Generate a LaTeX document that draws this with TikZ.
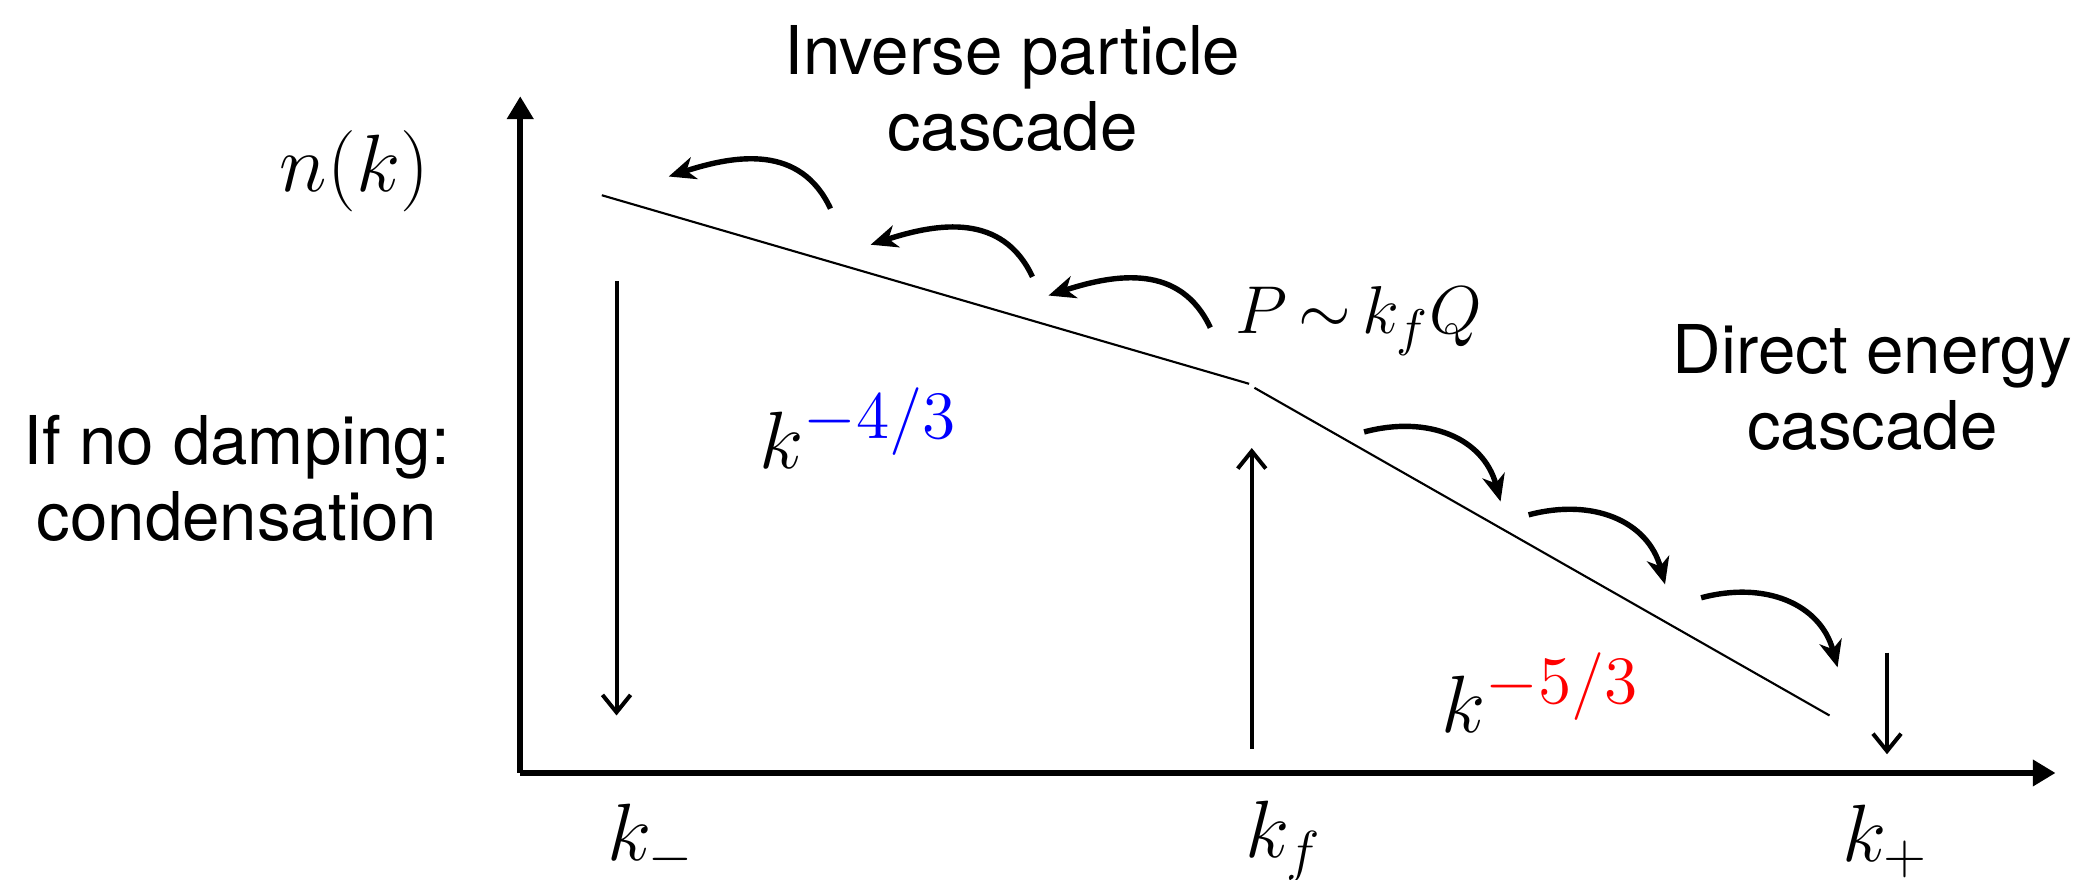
\documentclass[tikz,border=0pt]{standalone}
\usepackage[no-math]{fontspec}
\setmainfont{TeX Gyre Heros}
\usetikzlibrary{arrows.meta}

\begin{document}
\begin{tikzpicture}[x=0.01cm, y=0.01cm, every node/.style={font=\fontsize{14.3}{16.2}\selectfont, align=center, inner sep=0pt}, ax/.style={line width=1.25pt, -{Triangle[length=0.17cm, width=0.19cm]}}, spec/.style={line width=0.45pt}, flux/.style={line width=1.15pt, -{Stealth[length=0.2cm, width=0.17cm, inset=0.06cm]}}, vert/.style={line width=0.85pt, -{Straight Barb[length=0.13cm, width=0.21cm]}}, lab/.style={font=\fontsize{17}{20}\selectfont}]
	\useasboundingbox (0,0) rectangle (1568,658);
	% axes
	\coordinate (o) at (389,80);
	\coordinate (ytip) at (389,586);
	\coordinate (xtip) at (1537,80);
	\draw[ax] (o) -- (ytip);
	\draw[ax] (o) -- (xtip);
	\node[lab] (nk) at (265,530) {$n(k)$};
	% spectrum
	\coordinate (s0) at (450,512);
	\coordinate (s1) at (934,371);
	\coordinate (s2) at (938,368);
	\coordinate (s3) at (1368,123);
	\draw[spec] (s0) -- (s1);
	\draw[spec] (s2) -- (s3);
	\node[lab] (slo) at (642,338) {$k^{\mbox{\fontsize{13.5}{15}\selectfont$\color{blue}-4/3$}}$};
	\node[lab] (shi) at (1152,140) {$k^{\mbox{\fontsize{13.5}{15}\selectfont$\color{red}-5/3$}}$};
	\node[font=\fontsize{15}{18}\selectfont] (inj) at (1016,418) {$P\,{\sim}\,k_fQ$};
	% fluxes
	\foreach \a/\b in {621/502, 772/451, 905/413} {\draw[flux] (\a,\b) to[out=115, in=18, looseness=1.1] ++(-121,24);}
	\foreach \a/\b in {1020/335, 1143/273, 1272/211} {\draw[flux] (\a,\b) to[out=15, in=105, looseness=1.1] ++(102,-52);}
	\node (inv) at (757,592) {Inverse particle\\cascade};
	\node (dir) at (1400,368) {Direct energy\\cascade};
	\node (cond) at (177,300) {If no damping:\\condensation};
	% scales
	\draw[vert] (461,448) -- (461,123);
	\draw[vert] (936,98) -- (936,323);
	\draw[vert] (1411,170) -- (1411,94);
	\node[lab] (kmin) at (487,29) {$k_-$};
	\node[lab] (kf) at (960,29) {$k_f$};
	\node[lab] (kplus) at (1410,29) {$k_+$};
\end{tikzpicture}
\end{document}
